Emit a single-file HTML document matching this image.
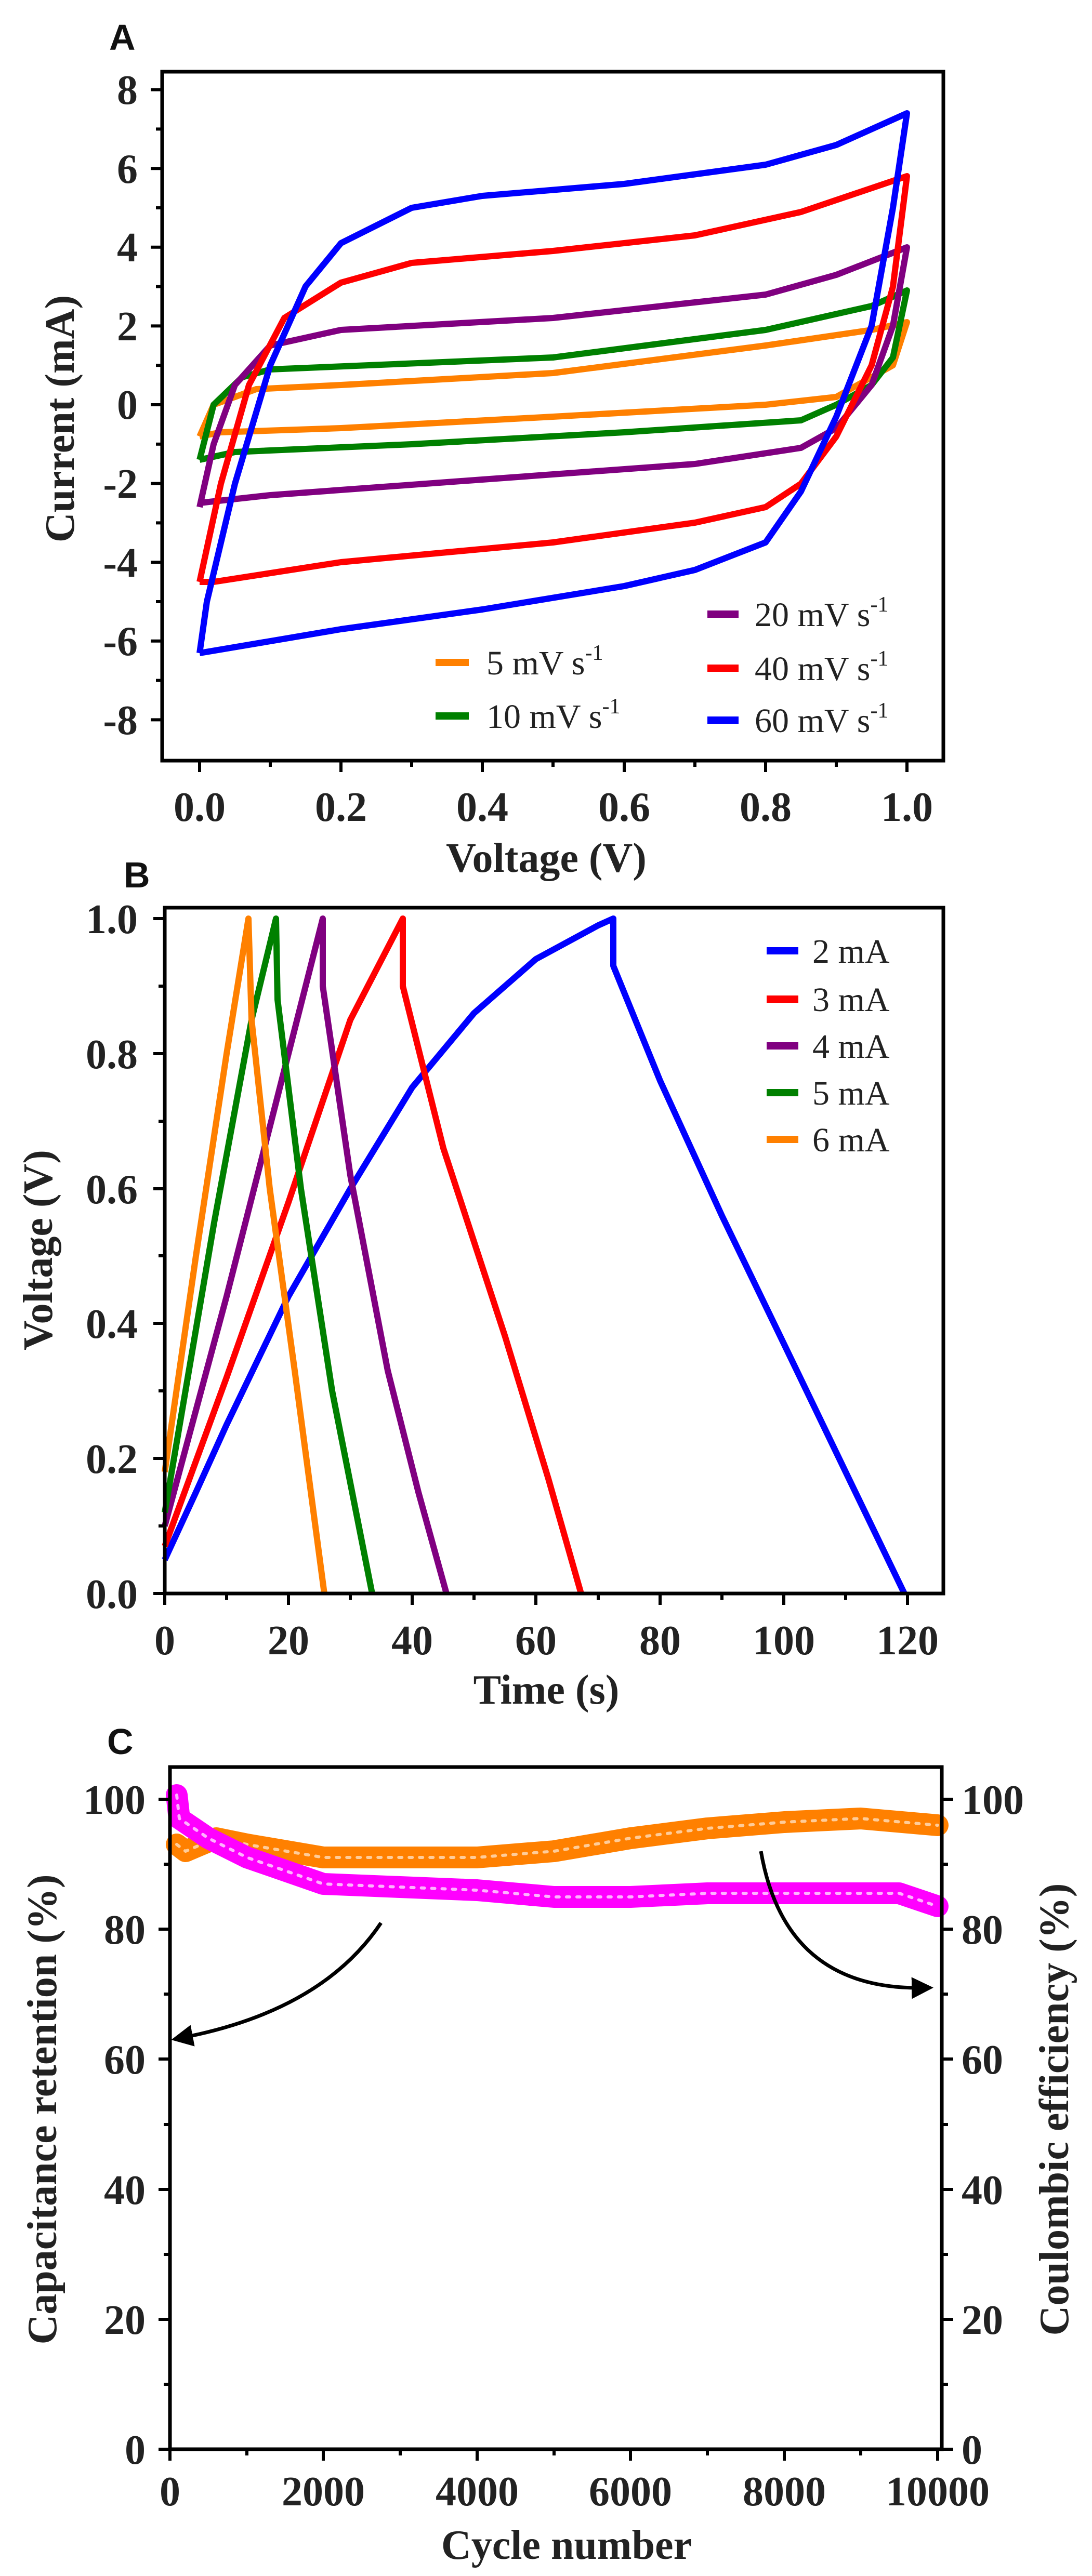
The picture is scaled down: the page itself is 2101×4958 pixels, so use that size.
<!DOCTYPE html>
<html><head><meta charset="utf-8"><style>
html,body{margin:0;padding:0;background:#fff}
svg{display:block}
.t{font-family:"Liberation Serif",serif;font-weight:bold;font-size:80px;fill:#222}
.ti{font-family:"Liberation Serif",serif;font-weight:bold;font-size:80px;fill:#222}
.lg{font-family:"Liberation Serif",serif;font-size:66px;fill:#222}
.pl{font-family:"Liberation Sans",sans-serif;font-weight:bold;font-size:70px;fill:#111}
</style></head><body>
<svg width="2101" height="4958" viewBox="0 0 2101 4958" xmlns="http://www.w3.org/2000/svg">
<defs><marker id="ah" markerWidth="6" markerHeight="6" refX="3" refY="3" orient="auto"><path d="M0,0 L6,3 L0,6 Z" fill="#000"/></marker></defs>
<!-- Panel A -->
<text class="pl" x="210" y="96">A</text>
<g fill="none" stroke-width="12" stroke-linejoin="round">
<polyline stroke="#ff8000" points="384,840 411,779 493,749 656,741 1064,718 1473,665 1677,635 1745,620 1718,703 1609,764 1473,779 1064,802 656,824 425,832 384,840"/>
<polyline stroke="#008000" points="384,885 411,779 466,726 520,711 1064,688 1473,635 1677,589 1745,559 1718,688 1677,741 1609,779 1541,809 1201,832 792,855 452,870 384,885"/>
<polyline stroke="#800080" points="384,976 411,855 452,741 520,665 656,635 1064,612 1473,567 1609,529 1745,476 1718,627 1677,741 1609,824 1541,862 1337,893 928,923 520,953 384,968"/>
<polyline stroke="#ff0000" points="384,1120 425,931 479,741 547,612 656,544 792,506 1064,483 1337,453 1541,408 1745,339 1718,552 1677,703 1609,840 1541,931 1473,976 1337,1006 1064,1044 656,1082 411,1120 384,1120"/>
<polyline stroke="#0000ff" points="384,1257 398,1158 452,931 520,703 588,551 656,468 792,400 928,377 1201,354 1473,317 1609,279 1745,218 1718,400 1677,627 1609,802 1541,946 1473,1044 1337,1097 1201,1128 928,1173 656,1211 384,1257"/>
</g>
<g stroke="#000" stroke-width="7" fill="none"><rect x="312" y="138" width="1503" height="1326"/></g>
<g stroke="#000" stroke-width="6">
<line x1="312" y1="172.6" x2="290" y2="172.6"/><line x1="312" y1="248.4" x2="300" y2="248.4"/><line x1="312" y1="324.2" x2="290" y2="324.2"/><line x1="312" y1="400" x2="300" y2="400"/><line x1="312" y1="475.8" x2="290" y2="475.8"/><line x1="312" y1="551.6" x2="300" y2="551.6"/><line x1="312" y1="627.4" x2="290" y2="627.4"/><line x1="312" y1="703.2" x2="300" y2="703.2"/><line x1="312" y1="779" x2="290" y2="779"/><line x1="312" y1="854.8" x2="300" y2="854.8"/><line x1="312" y1="930.6" x2="290" y2="930.6"/><line x1="312" y1="1006.4" x2="300" y2="1006.4"/><line x1="312" y1="1082.2" x2="290" y2="1082.2"/><line x1="312" y1="1158" x2="300" y2="1158"/><line x1="312" y1="1233.8" x2="290" y2="1233.8"/><line x1="312" y1="1309.6" x2="300" y2="1309.6"/><line x1="312" y1="1385.4" x2="290" y2="1385.4"/>
<line x1="384" y1="1464" x2="384" y2="1486"/><line x1="520" y1="1464" x2="520" y2="1476"/><line x1="656" y1="1464" x2="656" y2="1486"/><line x1="792" y1="1464" x2="792" y2="1476"/><line x1="928" y1="1464" x2="928" y2="1486"/><line x1="1064" y1="1464" x2="1064" y2="1476"/><line x1="1201" y1="1464" x2="1201" y2="1486"/><line x1="1337" y1="1464" x2="1337" y2="1476"/><line x1="1473" y1="1464" x2="1473" y2="1486"/><line x1="1609" y1="1464" x2="1609" y2="1476"/><line x1="1745" y1="1464" x2="1745" y2="1486"/>
</g>
<g class="t" text-anchor="end">
<text x="265" y="200">8</text><text x="265" y="352">6</text><text x="265" y="503">4</text><text x="265" y="655">2</text><text x="265" y="806">0</text><text x="265" y="958">-2</text><text x="265" y="1110">-4</text><text x="265" y="1261">-6</text><text x="265" y="1413">-8</text>
</g>
<g class="t" text-anchor="middle">
<text x="384" y="1580">0.0</text><text x="656" y="1580">0.2</text><text x="928" y="1580">0.4</text><text x="1201" y="1580">0.6</text><text x="1473" y="1580">0.8</text><text x="1745" y="1580">1.0</text>
</g>
<text class="ti" x="1051" y="1678" text-anchor="middle">Voltage (V)</text>
<text class="ti" transform="translate(142,806) rotate(-90)" text-anchor="middle">Current (mA)</text>
<g stroke-width="14">
<line x1="838" y1="1275" x2="902" y2="1275" stroke="#ff8000"/><line x1="838" y1="1378" x2="902" y2="1378" stroke="#008000"/>
<line x1="1361" y1="1182" x2="1421" y2="1182" stroke="#800080"/><line x1="1361" y1="1286" x2="1421" y2="1286" stroke="#ff0000"/><line x1="1361" y1="1386" x2="1421" y2="1386" stroke="#0000ff"/>
</g>
<g class="lg">
<text x="936" y="1298">5 mV s<tspan dy="-28" font-size="42">-1</tspan></text>
<text x="936" y="1401">10 mV s<tspan dy="-28" font-size="42">-1</tspan></text>
<text x="1452" y="1205">20 mV s<tspan dy="-28" font-size="42">-1</tspan></text>
<text x="1452" y="1309">40 mV s<tspan dy="-28" font-size="42">-1</tspan></text>
<text x="1452" y="1409">60 mV s<tspan dy="-28" font-size="42">-1</tspan></text>
</g>

<!-- Panel B -->
<text class="pl" x="238" y="1708">B</text>
<g fill="none" stroke-width="12" stroke-linejoin="round">
<polyline stroke="#0000ff" points="317,3002 377,2872 436,2742 555,2495 674,2288 793,2093 912,1950 1031,1846 1151,1781 1180,1768 1180,1859 1270,2080 1389,2340 1508,2586 1627,2833 1740,3067"/>
<polyline stroke="#ff0000" points="317,2976 436,2651 555,2314 674,1963 775,1768 775,1898 853,2210 972,2573 1055,2846 1118,3067"/>
<polyline stroke="#800080" points="317,2937 436,2495 555,2028 621,1768 621,1898 674,2262 746,2638 805,2872 859,3067"/>
<polyline stroke="#008000" points="317,2911 412,2353 484,1963 531,1768 534,1924 579,2288 639,2677 716,3067"/>
<polyline stroke="#ff8000" points="317,2833 377,2417 436,2028 478,1768 484,1963 519,2288 567,2638 624,3067"/>
</g>
<rect x="317" y="1747" width="1498" height="1320" fill="none" stroke="#000" stroke-width="7"/>
<g stroke="#000" stroke-width="6">
<line x1="317" y1="1768" x2="295" y2="1768"/><line x1="317" y1="1898" x2="305" y2="1898"/><line x1="317" y1="2028" x2="295" y2="2028"/><line x1="317" y1="2158" x2="305" y2="2158"/><line x1="317" y1="2288" x2="295" y2="2288"/><line x1="317" y1="2417" x2="305" y2="2417"/><line x1="317" y1="2547" x2="295" y2="2547"/><line x1="317" y1="2677" x2="305" y2="2677"/><line x1="317" y1="2807" x2="295" y2="2807"/><line x1="317" y1="2937" x2="305" y2="2937"/><line x1="317" y1="3067" x2="295" y2="3067"/>
<line x1="317" y1="3067" x2="317" y2="3089"/><line x1="436" y1="3067" x2="436" y2="3079"/><line x1="555" y1="3067" x2="555" y2="3089"/><line x1="674" y1="3067" x2="674" y2="3079"/><line x1="793" y1="3067" x2="793" y2="3089"/><line x1="912" y1="3067" x2="912" y2="3079"/><line x1="1031" y1="3067" x2="1031" y2="3089"/><line x1="1151" y1="3067" x2="1151" y2="3079"/><line x1="1270" y1="3067" x2="1270" y2="3089"/><line x1="1389" y1="3067" x2="1389" y2="3079"/><line x1="1508" y1="3067" x2="1508" y2="3089"/><line x1="1627" y1="3067" x2="1627" y2="3079"/><line x1="1746" y1="3067" x2="1746" y2="3089"/>
</g>
<g class="t" text-anchor="end">
<text x="265" y="1796">1.0</text><text x="265" y="2056">0.8</text><text x="265" y="2316">0.6</text><text x="265" y="2575">0.4</text><text x="265" y="2835">0.2</text><text x="265" y="3095">0.0</text>
</g>
<g class="t" text-anchor="middle">
<text x="317" y="3184">0</text><text x="555" y="3184">20</text><text x="793" y="3184">40</text><text x="1031" y="3184">60</text><text x="1270" y="3184">80</text><text x="1508" y="3184">100</text><text x="1746" y="3184">120</text>
</g>
<text class="ti" x="1051" y="3279" text-anchor="middle">Time (s)</text>
<text class="ti" transform="translate(100,2406) rotate(-90)" text-anchor="middle">Voltage (V)</text>
<g stroke-width="14">
<line x1="1475" y1="1830" x2="1536" y2="1830" stroke="#0000ff"/><line x1="1475" y1="1923" x2="1536" y2="1923" stroke="#ff0000"/><line x1="1475" y1="2013" x2="1536" y2="2013" stroke="#800080"/><line x1="1475" y1="2103" x2="1536" y2="2103" stroke="#008000"/><line x1="1475" y1="2193" x2="1536" y2="2193" stroke="#ff8000"/>
</g>
<g class="lg">
<text x="1563" y="1853">2 mA</text><text x="1563" y="1946">3 mA</text><text x="1563" y="2036">4 mA</text><text x="1563" y="2126">5 mA</text><text x="1563" y="2216">6 mA</text>
</g>

<!-- Panel C -->
<text class="pl" x="206" y="3376">C</text>
<g fill="none" stroke-linejoin="round" stroke-linecap="round">
<polyline stroke="#ff8000" stroke-width="42" points="340,3550 357,3563 416,3538 475,3550 622,3575 770,3575 918,3575 1066,3563 1213,3538 1361,3519 1509,3507 1656,3500 1804,3513"/>
<polyline stroke="#ffcc99" stroke-width="6" stroke-dasharray="6 14" points="340,3550 357,3563 416,3538 475,3550 622,3575 770,3575 918,3575 1066,3563 1213,3538 1361,3519 1509,3507 1656,3500 1804,3513"/>
<polyline stroke="#ff00ff" stroke-width="42" points="340,3455 345,3500 401,3538 475,3575 622,3626 770,3632 918,3638 1066,3651 1213,3651 1361,3644 1509,3644 1656,3644 1730,3644 1804,3669"/>
<polyline stroke="#ffb3ff" stroke-width="6" stroke-dasharray="6 14" points="340,3455 345,3500 401,3538 475,3575 622,3626 770,3632 918,3638 1066,3651 1213,3651 1361,3644 1509,3644 1656,3644 1730,3644 1804,3669"/>
</g>
<rect x="327" y="3401" width="1485" height="1313" fill="none" stroke="#000" stroke-width="7"/>
<g stroke="#000" stroke-width="6">
<line x1="327" y1="3463" x2="305" y2="3463"/><line x1="327" y1="3588" x2="315" y2="3588"/><line x1="327" y1="3713" x2="305" y2="3713"/><line x1="327" y1="3838" x2="315" y2="3838"/><line x1="327" y1="3963" x2="305" y2="3963"/><line x1="327" y1="4089" x2="315" y2="4089"/><line x1="327" y1="4214" x2="305" y2="4214"/><line x1="327" y1="4339" x2="315" y2="4339"/><line x1="327" y1="4464" x2="305" y2="4464"/><line x1="327" y1="4589" x2="315" y2="4589"/><line x1="327" y1="4714" x2="305" y2="4714"/>
<line x1="1812" y1="3463" x2="1834" y2="3463"/><line x1="1812" y1="3588" x2="1824" y2="3588"/><line x1="1812" y1="3713" x2="1834" y2="3713"/><line x1="1812" y1="3838" x2="1824" y2="3838"/><line x1="1812" y1="3963" x2="1834" y2="3963"/><line x1="1812" y1="4089" x2="1824" y2="4089"/><line x1="1812" y1="4214" x2="1834" y2="4214"/><line x1="1812" y1="4339" x2="1824" y2="4339"/><line x1="1812" y1="4464" x2="1834" y2="4464"/><line x1="1812" y1="4589" x2="1824" y2="4589"/><line x1="1812" y1="4714" x2="1834" y2="4714"/>
<line x1="327" y1="4714" x2="327" y2="4736"/><line x1="475" y1="4714" x2="475" y2="4726"/><line x1="622" y1="4714" x2="622" y2="4736"/><line x1="770" y1="4714" x2="770" y2="4726"/><line x1="918" y1="4714" x2="918" y2="4736"/><line x1="1066" y1="4714" x2="1066" y2="4726"/><line x1="1213" y1="4714" x2="1213" y2="4736"/><line x1="1361" y1="4714" x2="1361" y2="4726"/><line x1="1509" y1="4714" x2="1509" y2="4736"/><line x1="1656" y1="4714" x2="1656" y2="4726"/><line x1="1804" y1="4714" x2="1804" y2="4736"/>
</g>
<g fill="none" stroke="#000" stroke-width="7">
<path d="M733,3701 Q620,3870 350,3922" marker-end="url(#ah)"/>
<path d="M1464,3563 Q1510,3830 1775,3826" marker-end="url(#ah)"/>
</g>
<g class="t" text-anchor="end">
<text x="280" y="3491">100</text><text x="280" y="3741">80</text><text x="280" y="3991">60</text><text x="280" y="4242">40</text><text x="280" y="4492">20</text><text x="280" y="4742">0</text>
</g>
<g class="t" text-anchor="start">
<text x="1850" y="3491">100</text><text x="1850" y="3741">80</text><text x="1850" y="3991">60</text><text x="1850" y="4242">40</text><text x="1850" y="4492">20</text><text x="1850" y="4742">0</text>
</g>
<g class="t" text-anchor="middle">
<text x="327" y="4822">0</text><text x="622" y="4822">2000</text><text x="918" y="4822">4000</text><text x="1213" y="4822">6000</text><text x="1509" y="4822">8000</text><text x="1804" y="4822">10000</text>
</g>
<text class="ti" x="1090" y="4925" text-anchor="middle">Cycle number</text>
<text class="ti" transform="translate(108,4060) rotate(-90)" text-anchor="middle">Capacitance retention (%)</text>
<text class="ti" transform="translate(2055,4060) rotate(-90)" text-anchor="middle">Coulombic efficiency (%)</text>
</svg>
</body></html>
